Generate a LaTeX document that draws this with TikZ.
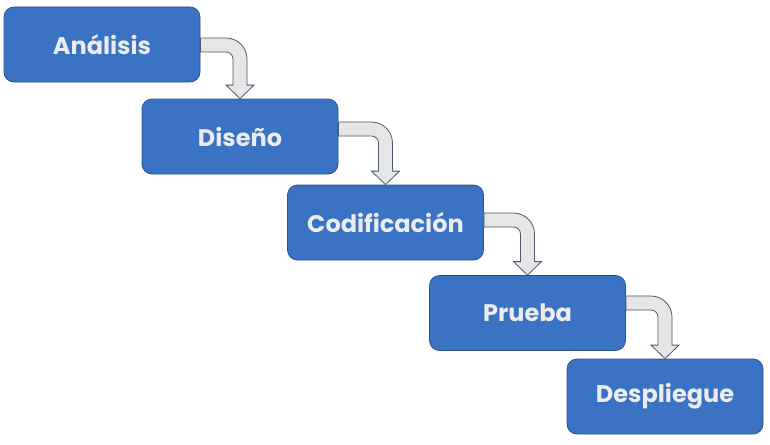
\documentclass[tikz,border=0pt]{standalone}
\usepackage{fontspec}
\setmainfont{Poppins}
\usetikzlibrary{calc,positioning}
\definecolor{boxblue}{HTML}{3A72C4}
\definecolor{boxline}{HTML}{2F528F}
\definecolor{boxtext}{HTML}{ECECEE}
\definecolor{arrowfill}{HTML}{E6E6E6}
\definecolor{arrowline}{HTML}{4A5A70}
\tikzset{
    x=1pt, y=-1pt, % one unit is one pixel of the reference, y downwards
    phase/.style={draw=boxline, line width=0.8pt, fill=boxblue, rounded corners=10pt,
        minimum width=196pt, minimum height=75pt, text=boxtext,
        font=\fontsize{24}{28}\selectfont\bfseries}, % the blue boxes
    bentarrow/.style={draw=arrowline, line width=0.8pt, fill=arrowfill}, % the gray block arrows
}

\begin{document}
\begin{tikzpicture}
  \useasboundingbox (0,0) rectangle (770,444);

  \node[phase] (p_1) at (102,44.5)  {Análisis};
  \node[phase] (p_2) at (240,136.5) {Diseño};
  \node[phase] (p_3) at (385.5,222.5) {Codificación};
  \node[phase] (p_4) at (527.5,313) {Prueba};
  \node[phase] (p_5) at (665,396.5) {Despliegue};

  % shaft half width 7, head half width 14, head length 13.5
  \foreach \a/\b/\off in {p_1/p_2/-0.5, p_2/p_3/7.5, p_3/p_4/2.5, p_4/p_5/10}
    \draw[bentarrow] let \p1=(\a.east), \p2=(\b.north), \n1={\y1+\off pt} in
      (\x1,\n1+7pt) -- (\x2-14pt,\n1+7pt) arc[start angle=90, end angle=0, radius=21pt]
      -- (\x2+7pt,\y2+13.5pt) -- (\x2+14pt,\y2+13.5pt) -- (\x2,\y2)
      -- (\x2-14pt,\y2+13.5pt) -- (\x2-7pt,\y2+13.5pt)
      -- (\x2-7pt,\n1-14pt) arc[start angle=0, end angle=90, radius=7pt]
      -- (\x1,\n1-7pt) -- cycle;
\end{tikzpicture}
\end{document}
